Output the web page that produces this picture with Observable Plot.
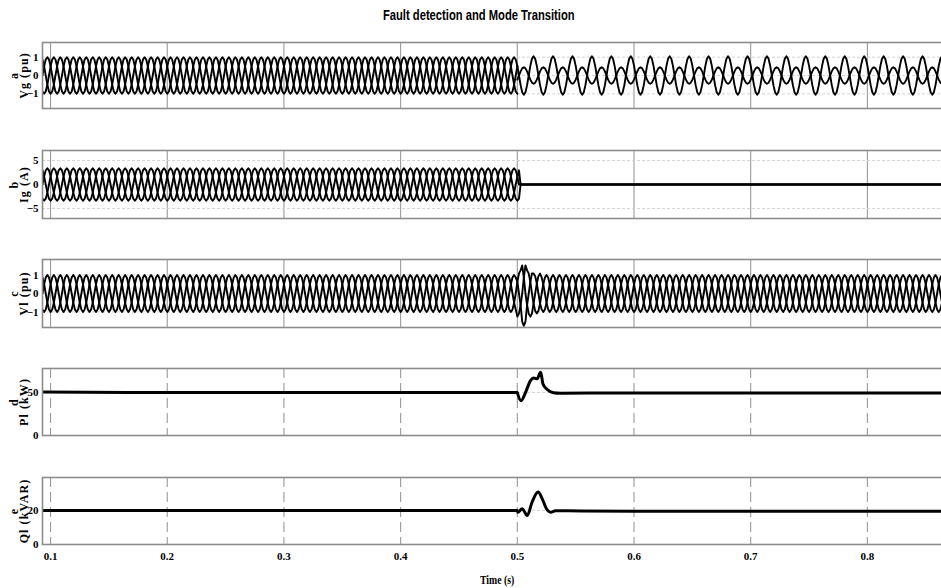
<!DOCTYPE html>
<html>
<head>
<meta charset="utf-8">
<script src="https://cdn.jsdelivr.net/npm/d3@7"></script>
<script src="https://cdn.jsdelivr.net/npm/@observablehq/plot@0.6"></script>
<style>
html, body { margin: 0; padding: 0; background: #fff; width: 941px; height: 588px; overflow: hidden; }
#chart { position: relative; width: 941px; height: 588px; overflow: hidden; }
.title { position: absolute; left: 0; width: 958px; top: 6px; text-align: center; }
.title span { display: inline-block; transform: scaleX(0.8); transform-origin: center;
  font-family: "Liberation Sans", Arial, sans-serif; font-weight: bold; font-size: 14px; color: #000; }
.xlabel { position: absolute; left: 397px; width: 200px; top: 570px; text-align: center; }
.xlabel span { display: inline-block; transform: scaleX(0.85);
  font-family: "Liberation Serif", serif; font-weight: bold; font-size: 11.5px; color: #000; }
.panel { position: absolute; left: 0; width: 960px; }
.panel svg { max-width: none !important; }
.panel g[aria-label="text"] text { letter-spacing: 1.1px; }
</style>
</head>
<body>
<div id="chart">
  <div class="title"><span>Fault detection and Mode Transition</span></div>
  <div class="xlabel"><span>Time (s)</span></div>
</div>
<script>
// ---------- data ----------
const timeAxisExtent = [0.0931, 0.8798];          // visible time range (s)
const timeTicks = [0.1, 0.2, 0.3, 0.4, 0.5, 0.6, 0.7, 0.8];
const faultTime = 0.5;                            // fault / islanding instant (s)
const cycleSeconds = 1 / 60;                      // one 60 Hz cycle
const cycleShape = [0, 0.5, 0.87, 1, 0.87, 0.5, 0, -0.5, -0.87, -1, -0.87, -0.5]; // one cycle, 12 samples
const threePhaseOffsets = [0, 4, 8];              // 120 deg shifts, in samples

// (a) grid voltage Vg (pu)
const vgAmpBefore = [1, 1, 1];
const vgAmpAfter = [1.05, 0.45];
const vgOffsetsAfter = [0, 6];
// (b) grid current Ig (A)
const igAmpBefore = [3.4, 3.4, 3.4];
const igTripTime = 0.502;
// (c) load voltage Vl (pu): amplitude steps after the fault
const vlSurgeStart = [0.5, 0.503, 0.508, 0.513, 0.52];
const vlSurgeAmp = [1.25, 1.75, 1.25, 1.08, 1];
// (d) load active power Pl (kW)
const plTime = [0.0931, 0.2, 0.3, 0.4, 0.5, 0.5002, 0.5033, 0.507, 0.5113, 0.514, 0.517, 0.52, 0.522, 0.5256, 0.531, 0.537, 0.6, 0.7, 0.8, 0.8798];
const plValue = [50.5, 50, 50, 50, 50, 49, 40.5, 50, 64, 67, 66, 73.5, 60, 53.5, 49.8, 49.2, 49.6, 49.6, 49.6, 49.6];
// (e) load reactive power Ql (kVAR)
const qlTime = [0.0931, 0.2, 0.3, 0.4, 0.5, 0.5005, 0.5042, 0.5085, 0.5127, 0.5178, 0.5213, 0.525, 0.5285, 0.5327, 0.6, 0.7, 0.8, 0.8798];
const qlValue = [20, 20, 20, 20, 20, 19, 21, 17, 25, 30.8, 27, 21, 19, 19.8, 19.6, 19.6, 19.6, 19.6];

// ---------- build the sampled waveforms ----------
const n = cycleShape.length;
const dt = cycleSeconds / n;
const kCount = Math.ceil((timeAxisExtent[1] - timeAxisExtent[0]) / dt) + 1;
function stepAmp(starts, amps, t, base) {
  let a = base;
  for (let i = 0; i < starts.length; i++) if (t >= starts[i]) a = amps[i];
  return a;
}
function wave(spec) {
  const rows = [];
  for (let k = 0; k < kCount; k++) {
    const t = timeAxisExtent[0] + k * dt;
    const s = spec(t);
    s.amps.forEach((a, p) => {
      rows.push({t, v: a * cycleShape[(k + s.offsets[p]) % n], phase: p});
    });
  }
  return rows;
}
const vgRows = (() => {
  const rows = [];
  for (let k = 0; k < kCount; k++) {
    const t = timeAxisExtent[0] + k * dt;
    if (t < faultTime + dt) {
      vgAmpBefore.forEach((a, p) => rows.push({t, v: a * cycleShape[(k + threePhaseOffsets[p]) % n], phase: "b" + p}));
    }
    if (t >= faultTime) {
      vgAmpAfter.forEach((a, p) => rows.push({t, v: a * cycleShape[(k + vgOffsetsAfter[p]) % n], phase: "a" + p}));
    }
  }
  return rows;
})();
const igRows = wave(t => ({amps: t < igTripTime ? igAmpBefore : [0, 0, 0], offsets: threePhaseOffsets}));
const vlRows = wave(t => {
  const a = stepAmp(vlSurgeStart, vlSurgeAmp, t, 1);
  return {amps: [a, a, a], offsets: threePhaseOffsets};
});
const plRows = plTime.map((t, i) => ({t, v: plValue[i]}));
const qlRows = qlTime.map((t, i) => ({t, v: qlValue[i]}));

// ---------- panels ----------
const panels = [
  {top: 42, h: 66, dom: [-1.8, 1.8], ticks: [-1, 0, 1], label: "a\nVg (pu)", rows: vgRows, wave: true, dashed: false},
  {top: 150, h: 68, dom: [-7.1, 7.1], ticks: [-5, 0, 5], label: "b\nIg (A)", rows: igRows, wave: true, dashed: false},
  {top: 259, h: 68, dom: [-1.84, 1.84], ticks: [-1, 0, 1], label: "c\nVl (pu)", rows: vlRows, wave: true, dashed: false},
  {top: 368, h: 67, dom: [0, 78], ticks: [0, 50], label: "d\nPl (kW)", rows: plRows, wave: false, dashed: true},
  {top: 477, h: 67, dom: [0, 39.4], ticks: [0, 20], label: "e\nQl (kVAR)", rows: qlRows, wave: false, dashed: true}
];

const chart = document.getElementById("chart");
panels.forEach((P, i) => {
  const bottom = i === panels.length - 1;
  const mt = 2, mb = bottom ? 24 : 2;
  const marks = [
    Plot.gridX(timeTicks, {stroke: "#9a9a9a", strokeOpacity: 1, strokeWidth: 1.1, strokeDasharray: P.dashed ? "10,5" : null}),
    Plot.gridY(P.ticks.filter(d => d !== P.dom[0]), {stroke: "#d4d4d4", strokeOpacity: 1, strokeDasharray: "3,2"}),
    P.wave
      ? Plot.line(P.rows, {x: "t", y: "v", z: "phase", stroke: "#000", strokeWidth: 1.9, clip: true})
      : Plot.line(P.rows, {x: "t", y: "v", stroke: "#000", strokeWidth: 3, curve: "monotone-x", clip: true}),
    Plot.frame({stroke: "#8c8c8c", strokeWidth: 1.6}),
    Plot.axisY(P.ticks, {tickSize: 0, tickPadding: 4, label: null}),
    Plot.text([P.label], {frameAnchor: "left", dx: -23, rotate: -90, text: d => d, fontSize: 12, fontWeight: "bold", textAnchor: "middle", lineAnchor: "middle", lineHeight: 0.85})
  ];
  if (bottom) marks.push(Plot.axisX(timeTicks, {tickSize: 0, tickPadding: 8, label: null, tickFormat: d3.format(".1f")}));
  const svg = Plot.plot({
    width: 960,
    height: P.h + mt + mb,
    marginLeft: 42, marginRight: 0, marginTop: mt, marginBottom: mb,
    x: {domain: timeAxisExtent, axis: bottom ? undefined : null},
    y: {domain: P.dom},
    style: {fontFamily: "'Liberation Serif', serif", fontWeight: "bold", fontSize: "11px", color: "#000", background: "transparent", overflow: "visible", maxWidth: "none"},
    marks
  });
  svg.style.maxWidth = "none";
  const div = document.createElement("div");
  div.className = "panel";
  div.style.top = (P.top - mt) + "px";
  div.appendChild(svg);
  chart.appendChild(div);
});
</script>
</body>
</html>
